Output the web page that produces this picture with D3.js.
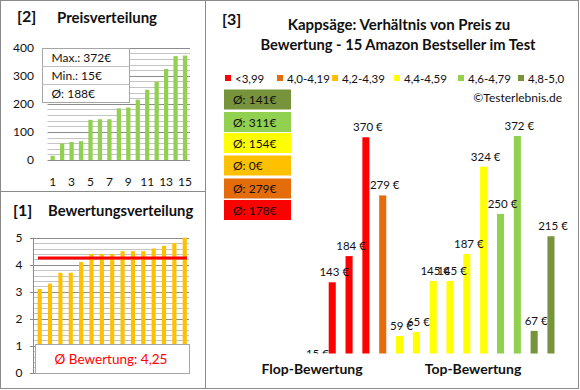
<!DOCTYPE html>
<meta charset="utf-8">
<style>
	body { margin: 0; background: #fff; }
	svg { display: block; font-family: Lato, "Open Sans", sans-serif; }
	.grid-minor { stroke: #c4c4c4; stroke-width: 1px; }
	.grid-major { stroke: #8c8c8c; stroke-width: 1px; }
	.ytick { font-size: 12px; fill: #111; }
	.frame { fill: none; stroke: #8a8a8a; stroke-width: 1px; }
	.hdr { font-weight: bold; fill: #111; }
</style>
<script src="https://cdn.jsdelivr.net/npm/d3@7"></script>
<body>
<svg width="580" height="390"></svg>
<script>
// price distribution (sorted ascending)
var prices = [15, 59, 64, 67, 143, 145, 145, 184, 187, 215, 250, 279, 324, 370, 372];
var priceTicks = [0, 100, 200, 300, 400];
var priceXLabels = [1, 3, 5, 7, 9, 11, 13, 15];
var priceStats = ["Max.: 372€", "Min.: 15€", "Ø: 188€"];

// ratings (sorted ascending)
var ratings = [3.1, 3.3, 3.7, 3.7, 4.1, 4.4, 4.4, 4.4, 4.5, 4.5, 4.5, 4.6, 4.7, 4.8, 5.0];
var ratingAvg = 4.25;
var ratingTicks = [0, 1, 2, 3, 4, 5];

// price per product, ordered by rating, with its rating class
var byRatingPrice = [15, 143, 184, 370, 279, 59, 65, 145, 145, 187, 324, 250, 372, 67, 215];
var byRatingClass = [0, 0, 0, 0, 1, 3, 3, 3, 3, 3, 3, 4, 4, 5, 5];
var classLabels = ["<3,99", "4,0-4,19", "4,2-4,39", "4,4-4,59", "4,6-4,79", "4,8-5,0"];
var classColors = ["#ff0000", "#e46c0a", "#ffc000", "#ffff00", "#92d050", "#77933c"];
var classAvg = [178, 279, 0, 154, 311, 141];

var svg = d3.select("svg");

// ---------- panel frames ----------
svg.append("rect").attr("class", "frame").attr("x", 0.5).attr("y", 0.5).attr("width", 578).attr("height", 388);
svg.append("line").attr("class", "frame").attr("x1", 205.5).attr("x2", 205.5).attr("y1", 0).attr("y2", 389);
svg.append("line").attr("class", "frame").attr("x1", 0).attr("x2", 205.5).attr("y1", 191.5).attr("y2", 191.5);

// ---------- [2] Preisverteilung ----------
var p = svg.append("g");
p.append("text").attr("class", "hdr").attr("x", 17).attr("y", 22).style("font-size", "16px").text("[2]");
p.append("text").attr("class", "hdr").attr("x", 57).attr("y", 23).style("font-size", "15px").text("Preisverteilung");

var px = d3.scaleBand().domain(d3.range(prices.length)).range([48, 189.7]).paddingInner(0.55).paddingOuter(0.27);
var py = d3.scaleLinear().domain([0, 400]).range([160, 47.7]);

p.selectAll(".pminor").data(d3.range(0, 401, 20)).enter().append("line")
	.attr("class", function(d) { return d % 100 === 0 ? "grid-major" : "grid-minor"; })
	.attr("x1", 47.5).attr("x2", 190)
	.attr("y1", function(d) { return Math.round(py(d)) + 0.5; })
	.attr("y2", function(d) { return Math.round(py(d)) + 0.5; });

p.selectAll(".pbar").data(prices).enter().append("rect")
	.attr("x", function(d, i) { return px(i); })
	.attr("width", px.bandwidth())
	.attr("y", function(d) { return py(d); })
	.attr("height", function(d) { return py(0) - py(d); })
	.attr("fill", "#92d050");

p.selectAll(".pyt").data(priceTicks).enter().append("text")
	.attr("class", "ytick").attr("x", 34).attr("y", function(d) { return py(d) + 4; })
	.attr("text-anchor", "end").text(function(d) { return d; });

p.selectAll(".pxt").data(priceXLabels).enter().append("text")
	.attr("class", "ytick").attr("x", function(d) { return px(d - 1) + px.bandwidth() / 2; })
	.attr("y", 186).attr("text-anchor", "middle").text(function(d) { return d; });

var sb = p.append("g");
sb.append("rect").attr("x", 42.5).attr("y", 48.5).attr("width", 87).attr("height", 54)
	.attr("fill", "#fff").attr("stroke", "#a6a6a6");
sb.selectAll(".sep").data([66.5, 84.5]).enter().append("line")
	.attr("x1", 42.5).attr("x2", 129.5).attr("y1", function(d) { return d; }).attr("y2", function(d) { return d; })
	.attr("stroke", "#bfbfbf");
sb.selectAll(".st").data(priceStats).enter().append("text")
	.attr("x", 51.5).attr("y", function(d, i) { return 62 + i * 18; })
	.style("font-size", "12px").attr("fill", "#111").text(function(d) { return d; });

// ---------- [1] Bewertungsverteilung ----------
var r = svg.append("g");
r.append("text").attr("class", "hdr").attr("x", 13).attr("y", 216).style("font-size", "16px").text("[1]");
r.append("text").attr("class", "hdr").attr("x", 48).attr("y", 216).style("font-size", "14.8px").text("Bewertungsverteilung");

var rx = d3.scaleBand().domain(d3.range(ratings.length)).range([34.5, 189.9]).paddingInner(0.6).paddingOuter(0.3);
var ry = d3.scaleLinear().domain([0, 5]).range([372.7, 237.7]);

r.selectAll(".rg").data(d3.range(0, 5.01, 0.2).map(function(d) { return Math.round(d * 10) / 10; })).enter().append("line")
	.attr("class", function(d) { return d % 1 === 0 ? "grid-major" : "grid-minor"; })
	.attr("x1", function(d) { return d % 1 === 0 ? 30 : 33.5; }).attr("x2", 189)
	.attr("y1", function(d) { return Math.round(ry(d)) + 0.5; })
	.attr("y2", function(d) { return Math.round(ry(d)) + 0.5; });
r.append("line").attr("class", "grid-major").attr("x1", 33.5).attr("x2", 33.5).attr("y1", ry(5)).attr("y2", ry(0) + 1);

r.selectAll(".rbar").data(ratings).enter().append("rect")
	.attr("x", function(d, i) { return rx(i); })
	.attr("width", rx.bandwidth())
	.attr("y", function(d) { return ry(d); })
	.attr("height", function(d) { return ry(1) - ry(d); })
	.attr("fill", "#ffc000");

r.append("line").attr("x1", 38).attr("x2", 187)
	.attr("y1", ry(ratingAvg)).attr("y2", ry(ratingAvg))
	.attr("stroke", "#ff0000").attr("stroke-width", 3);

r.selectAll(".ryt").data(ratingTicks).enter().append("text")
	.attr("class", "ytick").attr("x", 19).attr("y", function(d) { return ry(d) + 4.5; })
	.attr("text-anchor", "middle").text(function(d) { return d; });

r.append("rect").attr("x", 35.5).attr("y", 344.5).attr("width", 154).attr("height", 29)
	.attr("fill", "#fff").attr("stroke", "#a6a6a6");
r.append("text").attr("x", 111).attr("y", 364).attr("text-anchor", "middle")
	.style("font-size", "13.5px").attr("fill", "#ff0000")
	.text("Ø Bewertung: " + String(ratingAvg).replace(".", ","));

// ---------- [3] Preis zu Bewertung ----------
var c = svg.append("g");
c.append("text").attr("class", "hdr").attr("x", 222).attr("y", 25).style("font-size", "16px").text("[3]");
c.append("text").attr("class", "hdr").attr("x", 399).attr("y", 30).attr("text-anchor", "middle")
	.style("font-size", "15px").text("Kappsäge: Verhältnis von Preis zu");
c.append("text").attr("class", "hdr").attr("x", 398).attr("y", 50).attr("text-anchor", "middle")
	.style("font-size", "14.7px").text("Bewertung - 15 Amazon Bestseller im Test");

var legX = [225, 277, 332, 394, 458, 518];
var leg = c.selectAll(".leg").data(classLabels).enter().append("g")
	.attr("transform", function(d, i) { return "translate(" + legX[i] + ",78)"; });
leg.append("rect").attr("x", 0).attr("y", -3).attr("width", 6).attr("height", 6)
	.attr("fill", function(d, i) { return classColors[i]; });
leg.append("text").attr("x", 10).attr("y", 4.5).style("font-size", "11.5px").attr("fill", "#111")
	.text(function(d) { return d; });

c.append("text").attr("x", 562).attr("y", 102).attr("text-anchor", "end")
	.style("font-size", "12px").attr("fill", "#111").text("©Testerlebnis.de");

// average boxes, top = best class
var boxTop = [89.5, 112, 133, 155.5, 178.5, 200];
var boxOrder = d3.range(classLabels.length).reverse();
var bx = c.selectAll(".avg").data(boxOrder).enter().append("g")
	.attr("transform", function(d, i) { return "translate(224," + boxTop[i] + ")"; });
bx.append("rect").attr("width", 67).attr("height", 20)
	.attr("fill", function(d) { return classColors[d]; });
bx.append("text").attr("x", 9).attr("y", 14.5).style("font-size", "12px").attr("fill", "#111")
	.text(function(d) { return "Ø: " + classAvg[d] + "€"; });

var cx = d3.scaleBand().domain(d3.range(byRatingPrice.length)).range([307, 559.4]).paddingInner(0.58).paddingOuter(0.29);
var cy = d3.scaleLinear().domain([30, 400]).range([354.5, 118.1]);

svg.append("defs").append("clipPath").attr("id", "plot")
	.append("rect").attr("x", 230).attr("y", 100).attr("width", 340).attr("height", 253.5);

var plot = c.append("g").attr("clip-path", "url(#plot)");
plot.selectAll(".cbar").data(byRatingPrice).enter().append("rect")
	.attr("x", function(d, i) { return cx(i); })
	.attr("width", cx.bandwidth())
	.attr("y", function(d) { return Math.min(cy(d), cy(30)); })
	.attr("height", function(d) { return Math.max(0, cy(30) - cy(d)); })
	.attr("fill", function(d, i) { return classColors[byRatingClass[i]]; });
plot.selectAll(".clab").data(byRatingPrice).enter().append("text")
	.attr("x", function(d, i) { return cx(i) + cx.bandwidth() / 2 + 2; })
	.attr("y", function(d) { return cy(d) - 6; })
	.attr("text-anchor", "middle").style("font-size", "11.5px").attr("fill", "#111")
	.text(function(d) { return d + " €"; });

c.append("text").attr("class", "hdr").attr("x", 312).attr("y", 374).attr("text-anchor", "middle")
	.style("font-size", "14px").text("Flop-Bewertung");
c.append("text").attr("class", "hdr").attr("x", 473).attr("y", 374).attr("text-anchor", "middle")
	.style("font-size", "14px").text("Top-Bewertung");
</script>
</body>
